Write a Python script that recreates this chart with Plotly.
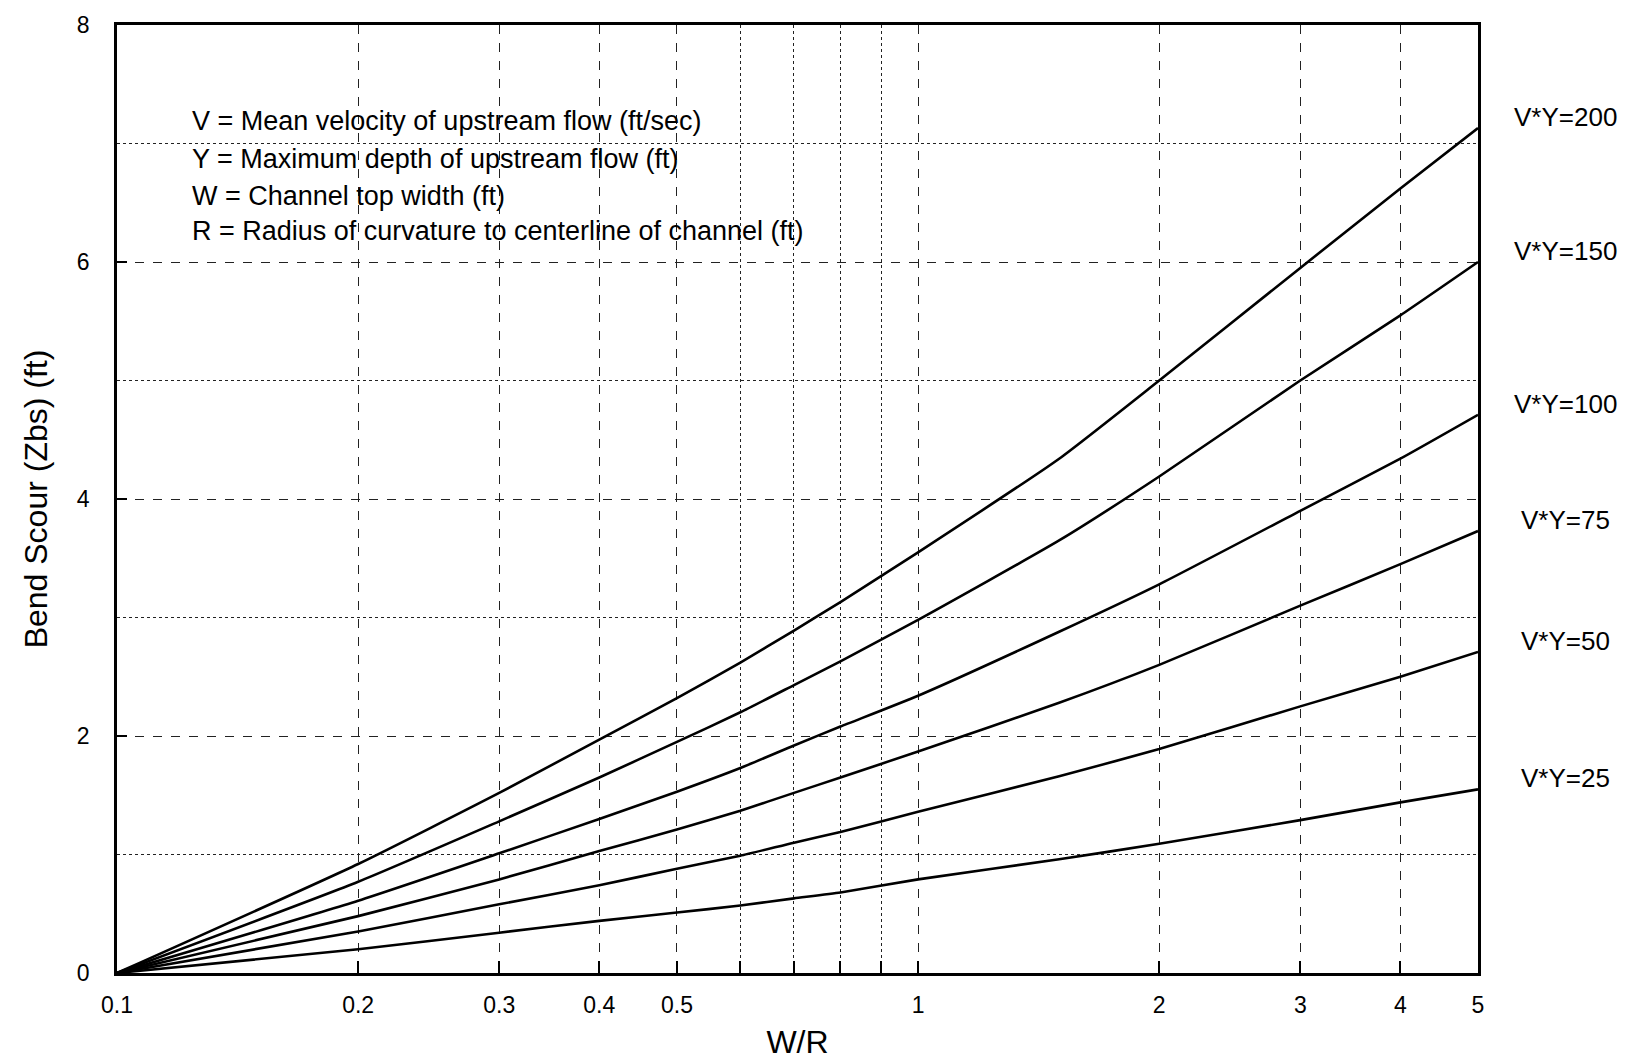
import math
import plotly.graph_objects as go

# ---- data ----
wr = [0.1, 0.2, 0.3, 0.4, 0.5, 0.6, 0.7, 0.8, 1.0, 1.5, 2.0, 3.0, 4.0, 5.0]

vy200 = [0.0, 0.92, 1.52, 1.97, 2.32, 2.62, 2.89, 3.13, 3.55, 4.34, 5.00, 5.95, 6.62, 7.13]
vy150 = [0.0, 0.77, 1.28, 1.65, 1.95, 2.20, 2.43, 2.63, 2.98, 3.65, 4.19, 5.00, 5.55, 6.00]
vy100 = [0.0, 0.61, 1.01, 1.30, 1.53, 1.73, 1.92, 2.08, 2.34, 2.88, 3.28, 3.90, 4.34, 4.71]
vy75 = [0.0, 0.48, 0.79, 1.03, 1.21, 1.37, 1.52, 1.65, 1.87, 2.28, 2.60, 3.10, 3.45, 3.73]
vy50 = [0.0, 0.35, 0.58, 0.74, 0.88, 0.99, 1.10, 1.19, 1.36, 1.66, 1.89, 2.25, 2.50, 2.71]
vy25 = [0.0, 0.20, 0.34, 0.44, 0.51, 0.57, 0.63, 0.68, 0.79, 0.96, 1.09, 1.29, 1.44, 1.55]

series_names = ["V*Y=200", "V*Y=150", "V*Y=100", "V*Y=75", "V*Y=50", "V*Y=25"]
series_vals = [vy200, vy150, vy100, vy75, vy50, vy25]

x_tickvals = [0.1, 0.2, 0.3, 0.4, 0.5, 1, 2, 3, 4, 5]
x_ticktext = ["0.1", "0.2", "0.3", "0.4", "0.5", "1", "2", "3", "4", "5"]
x_minor = [0.6, 0.7, 0.8, 0.9]
y_tickvals = [0, 2, 4, 6, 8]
y_minor = [1, 3, 5, 7]

notes = [
    "V = Mean velocity of upstream flow (ft/sec)",
    "Y = Maximum depth of upstream flow (ft)",
    "W = Channel top width (ft)",
    "R = Radius of curvature to centerline of channel (ft)",
]

FONT = "Arial, Liberation Sans, sans-serif"

fig = go.Figure()
for name, vals in zip(series_names, series_vals):
    fig.add_trace(go.Scatter(x=wr, y=vals, mode="lines", name=name,
                             line=dict(color="black", width=2.6, shape="spline", smoothing=0.5),
                             showlegend=False))

# right-side curve labels
for name, vals in zip(series_names, series_vals):
    fig.add_annotation(x=1.064, xref="paper", y=vals[-1], yref="y", text=name,
                       showarrow=False, xanchor="center", yshift=11,
                       font=dict(family=FONT, size=26, color="black"))

# explanatory notes
note_y = [7.19, 6.87, 6.56, 6.26]
for t, yy in zip(notes, note_y):
    fig.add_annotation(x=math.log10(0.1235), xref="x", y=yy, yref="y", text=t,
                       showarrow=False, xanchor="left", yanchor="middle",
                       font=dict(family=FONT, size=27, color="black"))

fig.update_layout(
    width=1633, height=1062,
    margin=dict(l=109, r=163, t=17, b=97, autoexpand=False),
    plot_bgcolor="white", paper_bgcolor="white",
    font=dict(family=FONT, color="black"),
)
fig.update_xaxes(
    type="log", range=[-1, math.log10(5)], automargin=False,
    tickmode="array", tickvals=x_tickvals, ticktext=x_ticktext,
    tickfont=dict(family=FONT, size=23, color="black"),
    ticks="inside", ticklen=12, tickwidth=1.5, tickcolor="black",
    ticklabelstandoff=10,
    showgrid=True, gridcolor="#222", gridwidth=1.2, griddash="dash",
    minor=dict(tickmode="array", tickvals=x_minor, showgrid=True, gridcolor="#222",
               gridwidth=1.2, griddash="dot", ticks="inside", ticklen=12, tickcolor="black"),
    showline=True, linecolor="black", linewidth=2.5, mirror=True,
    zeroline=False,
    title=dict(text="W/R", font=dict(family=FONT, size=32, color="black"), standoff=14),
)
fig.update_yaxes(
    range=[0, 8], automargin=False,
    tickmode="array", tickvals=y_tickvals,
    tickfont=dict(family=FONT, size=23, color="black"),
    ticks="inside", ticklen=10, tickwidth=1.5, tickcolor="black",
    ticklabelstandoff=20,
    showgrid=True, gridcolor="#222", gridwidth=1.2, griddash="dash",
    minor=dict(tickmode="array", tickvals=y_minor, showgrid=True, gridcolor="#222",
               gridwidth=1.2, griddash="dot"),
    showline=True, linecolor="black", linewidth=2.5, mirror=True,
    zeroline=False,
    title=dict(text="Bend Scour (Zbs) (ft)", font=dict(family=FONT, size=32, color="black"), standoff=20),
)

fig.write_html("out.html")
